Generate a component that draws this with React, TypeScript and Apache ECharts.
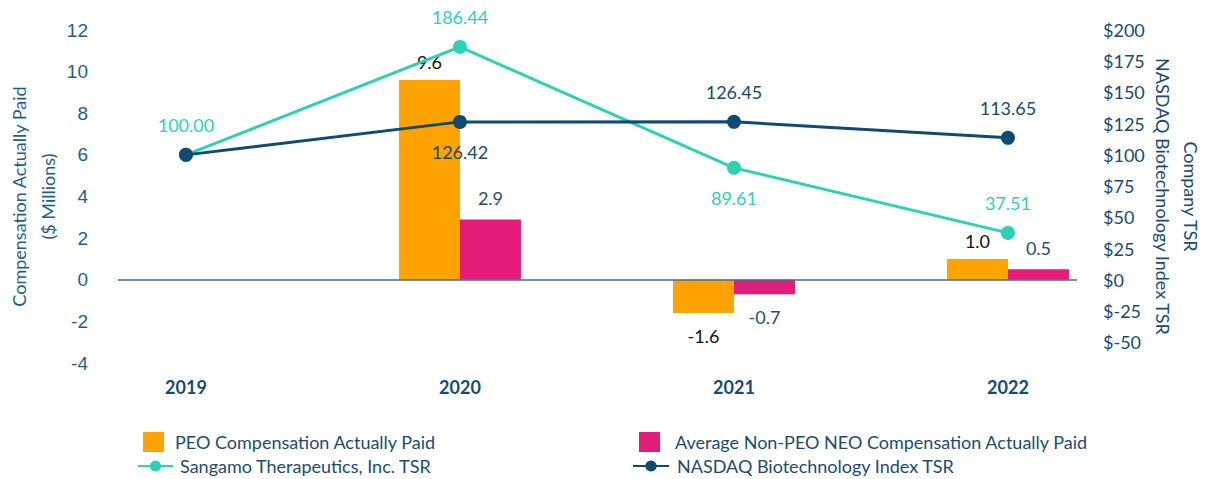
import React, { useEffect, useRef } from "react";
import * as echarts from "echarts";

const years = ["2019", "2020", "2021", "2022"];
const peoCap = [null, 9.6, -1.6, 1.0];
const neoCap = [null, 2.9, -0.7, 0.5];
const sangamoTsr = [100.0, 186.44, 89.61, 37.51];
const nasdaqTsr = [100.0, 126.42, 126.45, 113.65];
const leftTicks = [-4, -2, 0, 2, 4, 6, 8, 10, 12];
const rightTicks = [-50, -25, 0, 25, 50, 75, 100, 125, 150, 175, 200];

const ORANGE = "#FFA300";
const PINK = "#E31C79";
const TEAL = "#2DD1B4";
const NAVY = "#0F4A73";
const TEXT = "#1B4C70";
const FONT = "Lato, 'Open Sans', sans-serif";

const sangamoPos = ["top", "top", "bottom", "top"];
const nasdaqPos = [null, "bottom", "top", "top"];

export default function App() {
  const ref = useRef<HTMLDivElement>(null);
  useEffect(() => {
    const chart = echarts.init(ref.current!, null, { renderer: "svg" });
    const fmt2 = (v: number) => v.toFixed(2);
    chart.setOption({
      animation: false,
      textStyle: { fontFamily: FONT },
      grid: { left: 118, right: 130, top: 30, bottom: 116, containLabel: false, outerBoundsMode: "none" },
      xAxis: {
        type: "value",
        min: -0.248,
        max: 3.252,
        axisLine: { show: false },
        axisTick: { show: false },
        splitLine: { show: false },
        axisLabel: {
          customValues: [0, 1, 2, 3],
          formatter: (v: number) => years[Math.round(v)],
          color: "#174A70",
          fontWeight: "bold",
          fontSize: 18,
          fontFamily: FONT,
          margin: 15,
        },
      },
      yAxis: [
        {
          type: "value",
          min: -4,
          max: 12,
          interval: 2,
          axisLine: { show: false },
          axisTick: { show: false },
          splitLine: { show: false },
          axisLabel: {
            customValues: leftTicks,
            color: "#1F5E8C",
            fontSize: 19,
            fontFamily: "'Liberation Sans', Arial, sans-serif",
            margin: 30,
          },
          name: "Compensation Actually Paid\n($ Millions)",
          nameLocation: "middle",
          nameGap: 56,
          nameMoveOverlap: false,
          nameTextStyle: { color: "#1F5E8C", fontSize: 18, fontFamily: FONT, lineHeight: 29 },
        },
        {
          type: "value",
          min: -66.667,
          max: 200,
          position: "right",
          axisLine: { show: false },
          axisTick: { show: false },
          splitLine: { show: false },
          axisLabel: {
            customValues: rightTicks,
            formatter: (v: number) => "$" + v,
            color: "#174A70",
            fontSize: 18,
            fontFamily: FONT,
            margin: 26,
          },
          name: "Company TSR\nNASDAQ Biotechnology Index TSR",
          nameLocation: "middle",
          nameRotate: -90,
          nameGap: 72,
          nameMoveOverlap: false,
          nameTextStyle: { color: "#174A70", fontSize: 18, fontFamily: FONT, lineHeight: 28 },
        },
      ],
      legend: [
        {
          data: ["PEO Compensation Actually Paid"],
          left: 138, top: 427, itemWidth: 21, itemHeight: 20,
          icon: "rect",
          textStyle: { color: TEXT, fontSize: 18, fontFamily: FONT, padding: [0, 0, 0, 6] },
        },
        {
          data: ["Average Non-PEO NEO Compensation Actually Paid"],
          left: 634, top: 427, itemWidth: 21, itemHeight: 20,
          icon: "rect",
          textStyle: { color: TEXT, fontSize: 18, fontFamily: FONT, padding: [0, 0, 0, 10] },
        },
        {
          data: ["Sangamo Therapeutics, Inc. TSR"],
          left: 132, top: 452, itemWidth: 35, itemHeight: 14,
          textStyle: { color: TEXT, fontSize: 18, fontFamily: FONT, padding: [0, 0, 0, 2] },
        },
        {
          data: ["NASDAQ Biotechnology Index TSR"],
          left: 627, top: 452, itemWidth: 36, itemHeight: 14,
          textStyle: { color: TEXT, fontSize: 18, fontFamily: FONT, padding: [0, 0, 0, 3] },
        },
      ],
      series: [
        {
          name: "PEO Compensation Actually Paid",
          type: "bar",
          yAxisIndex: 0,
          barWidth: 61,
          barGap: "0%",
          itemStyle: { color: ORANGE },
          data: peoCap.map((v, i) => ({
            value: [i, v],
            label: {
              show: v !== null,
              position: v !== null && v < 0 ? "bottom" : "top",
              distance: v !== null && v < 0 ? 14 : 9,
              color: "#111",
              fontSize: 18,
              fontFamily: FONT,
              formatter: () => (v as number).toFixed(1),
            },
          })),
          markLine: {
            silent: true,
            symbol: "none",
            label: { show: false },
            lineStyle: { color: "#3E6E92", width: 1.5, type: "solid" },
            data: [{ yAxis: 0 }],
          },
        },
        {
          name: "Average Non-PEO NEO Compensation Actually Paid",
          type: "bar",
          yAxisIndex: 0,
          barWidth: 61,
          barGap: "0%",
          itemStyle: { color: PINK },
          data: neoCap.map((v, i) => ({
            value: [i, v],
            label: {
              show: v !== null,
              position: v !== null && v < 0 ? "bottom" : "top",
              distance: v !== null && v < 0 ? 14 : 12,
              color: "#1D4E72",
              fontSize: 18,
              fontFamily: FONT,
              formatter: () => (v as number).toFixed(1),
            },
          })),
        },
        {
          name: "Sangamo Therapeutics, Inc. TSR",
          type: "line",
          yAxisIndex: 1,
          symbol: "circle",
          symbolSize: 14,
          lineStyle: { color: TEAL, width: 3 },
          itemStyle: { color: TEAL },
          z: 3,
          data: sangamoTsr.map((v, i) => ({
            value: [i, v],
            label: {
              show: true,
              position: sangamoPos[i],
              distance: 14,
              color: TEAL,
              fontSize: 18,
              fontFamily: FONT,
              formatter: () => fmt2(v),
            },
          })),
        },
        {
          name: "NASDAQ Biotechnology Index TSR",
          type: "line",
          yAxisIndex: 1,
          symbol: "circle",
          symbolSize: 14,
          lineStyle: { color: NAVY, width: 3 },
          itemStyle: { color: NAVY },
          z: 4,
          data: nasdaqTsr.map((v, i) => ({
            value: [i, v],
            label: {
              show: nasdaqPos[i] !== null,
              position: nasdaqPos[i] || "top",
              distance: 14,
              color: "#174A70",
              fontSize: 18,
              fontFamily: FONT,
              formatter: () => fmt2(v),
            },
          })),
        },
      ],
    });
    return () => chart.dispose();
  }, []);
  return (
    <div
      ref={ref}
      style={{ position: "absolute", left: 0, top: 0, width: 1207, height: 479 }}
    />
  );
}
